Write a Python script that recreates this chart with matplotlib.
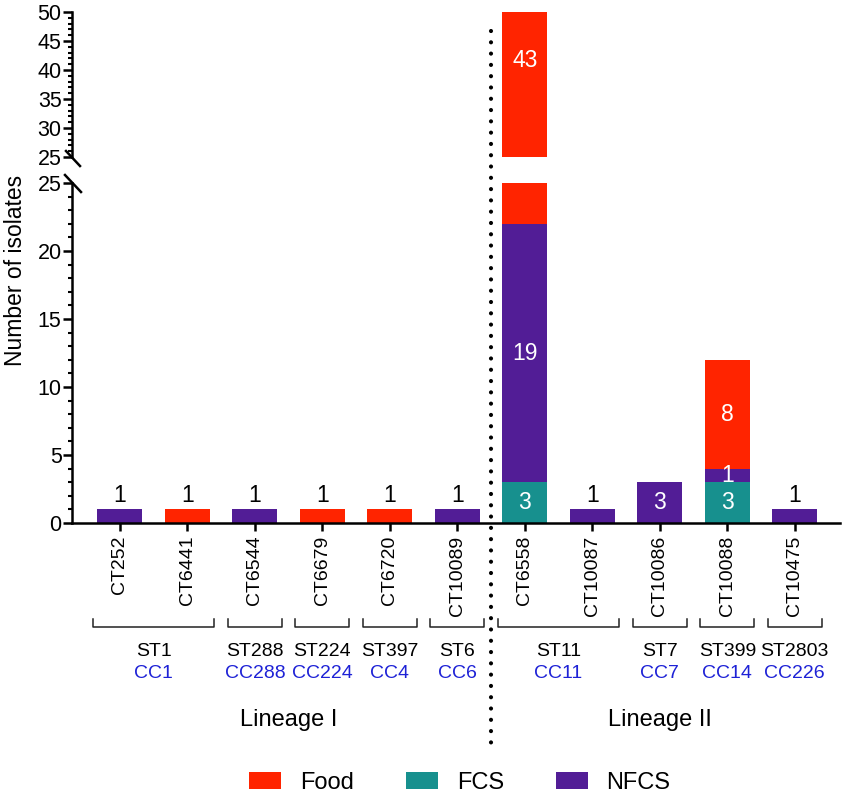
import matplotlib
matplotlib.use("Agg")
import matplotlib.pyplot as plt
from matplotlib.lines import Line2D
from matplotlib.patches import Patch
from matplotlib.ticker import MultipleLocator
import matplotlib.transforms as mtransforms

plt.rcParams['font.family'] = ['Liberation Sans', 'DejaVu Sans']

# ---- data ----
categories = ['CT252', 'CT6441', 'CT6544', 'CT6679', 'CT6720', 'CT10089',
              'CT6558', 'CT10087', 'CT10086', 'CT10088', 'CT10475']
fcs = [0, 0, 0, 0, 0, 0, 3, 0, 0, 3, 0]
nfcs = [1, 0, 1, 0, 0, 1, 19, 1, 3, 1, 1]
food = [0, 1, 0, 1, 1, 0, 43, 0, 0, 8, 0]

st_labels = ['ST1', 'ST288', 'ST224', 'ST397', 'ST6', 'ST11', 'ST7', 'ST399', 'ST2803']
cc_labels = ['CC1', 'CC288', 'CC224', 'CC4', 'CC6', 'CC11', 'CC7', 'CC14', 'CC226']
group_sizes = [2, 1, 1, 1, 1, 2, 1, 1, 1]
lineage_labels = ['Lineage I', 'Lineage II']
lineage_sizes = [6, 5]

series_names = ['Food', 'FCS', 'NFCS']
colors = {'Food': '#FF2400', 'FCS': '#17908E', 'NFCS': '#521D96'}
cc_color = '#1E22D6'

# ---- figure ----
W, H = 847, 798
fig = plt.figure(figsize=(W / 100, H / 100), dpi=100)
left = 72 / W
width = 768 / W
ax_top = fig.add_axes([left, 1 - 157 / H, width, 145 / H])
ax_bot = fig.add_axes([left, 1 - 523 / H, width, 340 / H], sharex=ax_top)

x = list(range(len(categories)))
bw = 0.667
stack_order = [('FCS', fcs), ('NFCS', nfcs), ('Food', food)]

top_lim = (25, 50)
bot_lim = (0, 25)

for ax in (ax_top, ax_bot):
    bottoms = [0] * len(categories)
    for name, vals in stack_order:
        ax.bar(x, vals, bw, bottom=bottoms, color=colors[name], linewidth=0)
        bottoms = [b + v for b, v in zip(bottoms, vals)]

ax_top.set_ylim(*top_lim)
ax_bot.set_ylim(*bot_lim)
ax_bot.set_xlim(-0.71, 10.67)

# value labels
for i in x:
    segs = [(n, vals[i]) for n, vals in stack_order if vals[i] > 0]
    b = 0
    for n, v in segs:
        lo, hi = b, b + v
        b = hi
        if len(segs) == 1 and v < 2:
            ax_bot.text(i, hi + 0.2, str(v), ha='center', va='bottom',
                        fontsize=16.5, color='black')
            continue
        mid = (lo + hi) / 2
        if hi > bot_lim[1] and lo < bot_lim[1]:
            ymid = min((max(lo, top_lim[0]) + hi) / 2, top_lim[1] - 8.3)
            ax_top.text(i, ymid, str(v), ha='center', va='center',
                        fontsize=16.5, color='white')
        else:
            ax_bot.text(i, mid, str(v), ha='center', va='center',
                        fontsize=16.5, color='white')

# axes styling
for ax in (ax_top, ax_bot):
    ax.spines['top'].set_visible(False)
    ax.spines['right'].set_visible(False)
    ax.spines['left'].set_linewidth(1.8)
    ax.yaxis.set_major_locator(MultipleLocator(5))
    ax.yaxis.set_minor_locator(MultipleLocator(1))
    ax.tick_params(axis='y', which='major', length=6.5, width=1.8,
                   labelsize=15.5, pad=1)
    ax.tick_params(axis='y', which='minor', length=3, width=1.5)

ax_top.spines['bottom'].set_visible(False)
ax_top.tick_params(axis='x', which='both', bottom=False, labelbottom=False)
ax_bot.spines['bottom'].set_linewidth(1.8)
ax_bot.set_xticks(x)
ax_bot.set_xticklabels(categories, rotation=90, fontsize=14)
ax_bot.tick_params(axis='x', which='major', length=6, width=1.8, pad=3)
ax_bot.tick_params(axis='x', which='minor', bottom=False)

fig.text(15 / W, 1 - 270 / H, 'Number of isolates', rotation=90,
         ha='center', va='center', fontsize=16.5)

# break marks
def slash(cx, cy, d1, d2):
    fig.add_artist(Line2D([(cx + d1[0]) / W, (cx + d2[0]) / W],
                          [1 - (cy + d1[1]) / H, 1 - (cy + d2[1]) / H],
                          transform=fig.transFigure, color='black', lw=1.8))
slash(72, 157, (-6, -6), (8, 9))
slash(72, 183, (-7, -8), (9, 9))

# group brackets and labels
tb = mtransforms.blended_transform_factory(ax_bot.transData, ax_bot.transAxes)
y_line = (523 - 627) / 340
y_tick = (523 - 619) / 340
y_st = (523 - 652) / 340
y_cc = (523 - 674) / 340
y_lin = (523 - 720) / 340
start = 0
for st, cc, n in zip(st_labels, cc_labels, group_sizes):
    a = start - 0.4
    b = start + n - 1 + 0.4
    ax_bot.plot([a, a, b, b], [y_tick, y_line, y_line, y_tick], transform=tb,
                clip_on=False, color='#222222', lw=1.1)
    c = (a + b) / 2
    ax_bot.text(c, y_st, st, transform=tb, ha='center', va='center', fontsize=14)
    ax_bot.text(c, y_cc, cc, transform=tb, ha='center', va='center',
                fontsize=14, color=cc_color)
    start += n

start = 0
for lab, n in zip(lineage_labels, lineage_sizes):
    c = start + (n - 1) / 2
    ax_bot.text(c, y_lin, lab, transform=tb, ha='center', va='center', fontsize=17)
    start += n

# dotted divider between lineages
tf = mtransforms.blended_transform_factory(ax_bot.transData, fig.transFigure)
fig.add_artist(Line2D([lineage_sizes[0] - 0.5] * 2, [1 - 31 / H, 1 - 745 / H],
                      transform=tf, color='black', lw=3.0,
                      linestyle=(0, (0.01, 2.7)), dash_capstyle='round'))

# legend
handles = [Patch(facecolor=colors[n], edgecolor='none', label=n) for n in series_names]
fig.legend(handles=handles, loc='center', bbox_to_anchor=(460 / W, 1 - 783 / H),
           ncol=3, frameon=False, fontsize=17, handlelength=1.35, handleheight=0.75,
           handletextpad=0.8, columnspacing=2.2)

fig.savefig('out.png', dpi=100)
